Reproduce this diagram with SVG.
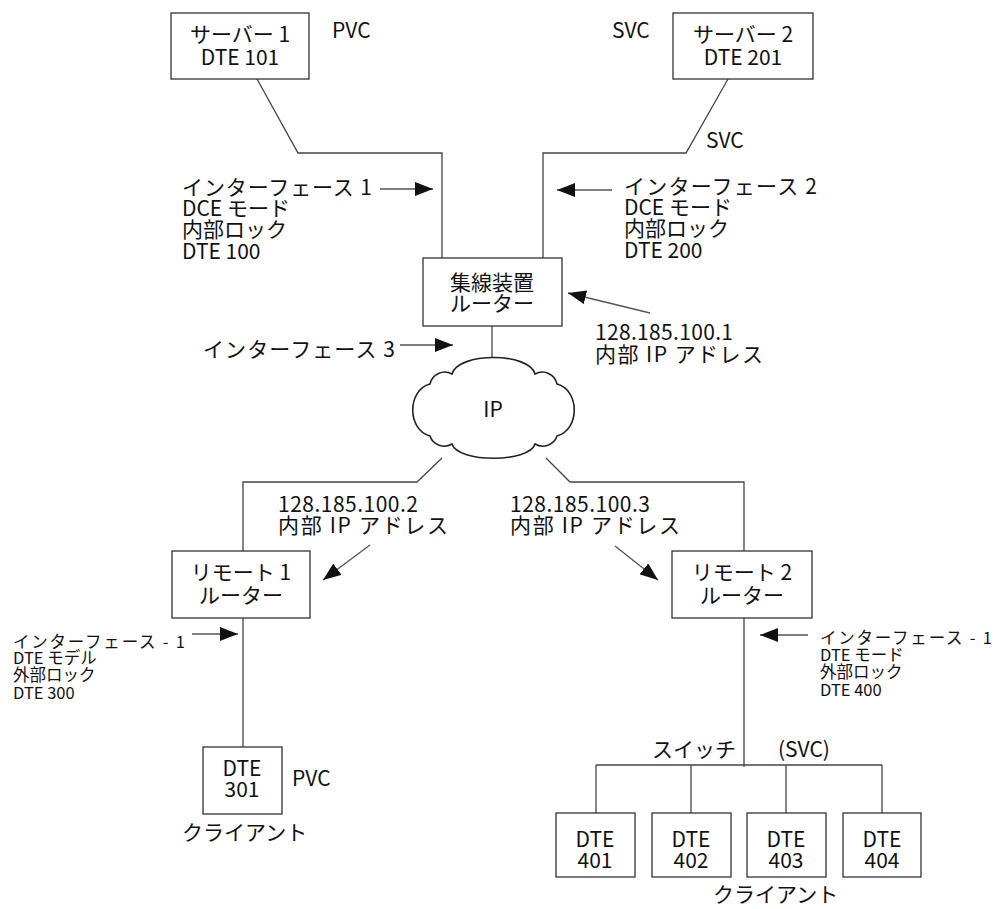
<svg xmlns="http://www.w3.org/2000/svg" width="997" height="909" viewBox="0 0 997 909">
<style>
.bg{fill:#fff}
.box{fill:#fff;stroke:#333;stroke-width:1.3}
.ln{fill:none;stroke:#444;stroke-width:1.3}
.ar{fill:none;stroke:#555;stroke-width:1.3}
.cloud{fill:#fff;stroke:#222;stroke-width:1.6}
.t{font-family:"Liberation Sans Narrow","Noto Sans CJK JP","Liberation Sans",sans-serif;font-size:21px;fill:#111}
.m{text-anchor:middle}
.s{font-size:16.5px}
</style>
<defs>
<marker id="ah" viewBox="0 0 18 14" refX="18" refY="7" markerWidth="18" markerHeight="14" orient="auto" markerUnits="userSpaceOnUse">
<path d="M0,0 L18,7 L0,14 Z" fill="#111"/>
</marker>
</defs>
<rect class="bg" x="0" y="0" width="997" height="909"/>

<g id="connectors">
<polyline class="ln" points="257,79 298,153 442,153 442,258"/>
<polyline class="ln" points="728,79 686,153 543,153 543,258"/>
<line class="ln" x1="492" y1="326" x2="492" y2="358"/>
<polyline class="ln" points="442,458 417,482 243,482 243,551"/>
<polyline class="ln" points="546,458 570,482 744,482 744,551"/>
<line class="ln" x1="243" y1="618" x2="243" y2="747"/>
<line class="ln" x1="744" y1="618" x2="744" y2="767"/>
<line class="ln" x1="596" y1="765" x2="882" y2="765"/>
<line class="ln" x1="596" y1="765" x2="596" y2="813"/>
<line class="ln" x1="691" y1="765" x2="691" y2="813"/>
<line class="ln" x1="786" y1="765" x2="786" y2="813"/>
<line class="ln" x1="882" y1="765" x2="882" y2="813"/>
</g>

<g id="arrows">
<line class="ar" x1="380" y1="189" x2="433" y2="189" marker-end="url(#ah)"/>
<line class="ar" x1="612" y1="190" x2="557" y2="190" marker-end="url(#ah)"/>
<line class="ar" x1="650" y1="313" x2="568" y2="293" marker-end="url(#ah)"/>
<line class="ar" x1="400" y1="345" x2="453" y2="345" marker-end="url(#ah)"/>
<line class="ar" x1="370" y1="545" x2="323" y2="580" marker-end="url(#ah)"/>
<line class="ar" x1="615" y1="546" x2="658" y2="580" marker-end="url(#ah)"/>
<line class="ar" x1="192" y1="634" x2="238" y2="634" marker-end="url(#ah)"/>
<line class="ar" x1="808" y1="635" x2="760" y2="635" marker-end="url(#ah)"/>
</g>

<g id="server1">
<rect class="box" x="171" y="13" width="138" height="66"/>
<text class="t m"><tspan x="240" y="42">サーバー 1</tspan><tspan x="240" y="65">DTE 101</tspan></text>
</g>
<g id="server2">
<rect class="box" x="673" y="13" width="140" height="66"/>
<text class="t m"><tspan x="743" y="42">サーバー 2</tspan><tspan x="743" y="65">DTE 201</tspan></text>
</g>
<g id="concentrator">
<rect class="box" x="423" y="258" width="139" height="68"/>
<text class="t m"><tspan x="492" y="290">集線装置</tspan><tspan x="492" y="311">ルーター</tspan></text>
</g>
<g id="ip-cloud">
<path class="cloud" d="M452,374 C458,352 529,352 535,374 A15,15 0 0 1 557,384 C580,390 580,430 557,436 A15,15 0 0 1 535,444 C529,463 458,463 452,444 A15,15 0 0 1 430,436 C407,430 407,390 430,384 A15,15 0 0 1 452,374 Z"/>
<text class="t m" x="493" y="417">IP</text>
</g>
<g id="remote1">
<rect class="box" x="172" y="551" width="138" height="67"/>
<text class="t m"><tspan x="241" y="580">リモート 1</tspan><tspan x="241" y="603">ルーター</tspan></text>
</g>
<g id="remote2">
<rect class="box" x="672" y="551" width="140" height="67"/>
<text class="t m"><tspan x="742" y="580">リモート 2</tspan><tspan x="742" y="603">ルーター</tspan></text>
</g>
<g id="dte301">
<rect class="box" x="203" y="747" width="79" height="67"/>
<text class="t m"><tspan x="242" y="776">DTE</tspan><tspan x="242" y="797">301</tspan></text>
</g>
<g id="dte401">
<rect class="box" x="556" y="813" width="79" height="64"/>
<text class="t m"><tspan x="595" y="847">DTE</tspan><tspan x="595" y="868">401</tspan></text>
</g>
<g id="dte402">
<rect class="box" x="652" y="813" width="79" height="64"/>
<text class="t m"><tspan x="691" y="847">DTE</tspan><tspan x="691" y="868">402</tspan></text>
</g>
<g id="dte403">
<rect class="box" x="747" y="813" width="79" height="64"/>
<text class="t m"><tspan x="786" y="847">DTE</tspan><tspan x="786" y="868">403</tspan></text>
</g>
<g id="dte404">
<rect class="box" x="843" y="813" width="78" height="64"/>
<text class="t m"><tspan x="882" y="847">DTE</tspan><tspan x="882" y="868">404</tspan></text>
</g>

<g id="labels">
<text class="t" x="332" y="38">PVC</text>
<text class="t" x="612" y="38">SVC</text>
<text class="t" x="706" y="148">SVC</text>
<text class="t"><tspan x="182" y="195" textLength="190" lengthAdjust="spacing">インターフェース 1</tspan><tspan x="182" y="216">DCE モード</tspan><tspan x="182" y="237">内部ロック</tspan><tspan x="182" y="259">DTE 100</tspan></text>
<text class="t"><tspan x="624" y="194" textLength="193" lengthAdjust="spacing">インターフェース 2</tspan><tspan x="624" y="215">DCE モード</tspan><tspan x="624" y="236">内部ロック</tspan><tspan x="624" y="258">DTE 200</tspan></text>
<text class="t"><tspan x="595" y="340" textLength="138" lengthAdjust="spacing">128.185.100.1</tspan><tspan x="595" y="362" textLength="168" lengthAdjust="spacing">内部 IP アドレス</tspan></text>
<text class="t" x="203" y="357" textLength="192" lengthAdjust="spacing">インターフェース 3</text>
<text class="t"><tspan x="278" y="512" textLength="140" lengthAdjust="spacing">128.185.100.2</tspan><tspan x="278" y="533" textLength="170" lengthAdjust="spacing">内部 IP アドレス</tspan></text>
<text class="t"><tspan x="510" y="512" textLength="140" lengthAdjust="spacing">128.185.100.3</tspan><tspan x="510" y="533" textLength="170" lengthAdjust="spacing">内部 IP アドレス</tspan></text>
<text class="t s"><tspan x="13" y="648" textLength="172" lengthAdjust="spacing">インターフェース - 1</tspan><tspan x="13" y="664">DTE モデル</tspan><tspan x="13" y="681">外部ロック</tspan><tspan x="13" y="699">DTE 300</tspan></text>
<text class="t s"><tspan x="820" y="644" textLength="172" lengthAdjust="spacing">インターフェース - 1</tspan><tspan x="820" y="661">DTE モード</tspan><tspan x="820" y="678">外部ロック</tspan><tspan x="820" y="696">DTE 400</tspan></text>
<text class="t" x="292" y="786">PVC</text>
<text class="t" x="182" y="840">クライアント</text>
<text class="t" x="652" y="757">スイッチ</text>
<text class="t" x="778" y="757">(SVC)</text>
<text class="t" x="713" y="902">クライアント</text>
</g>
</svg>
